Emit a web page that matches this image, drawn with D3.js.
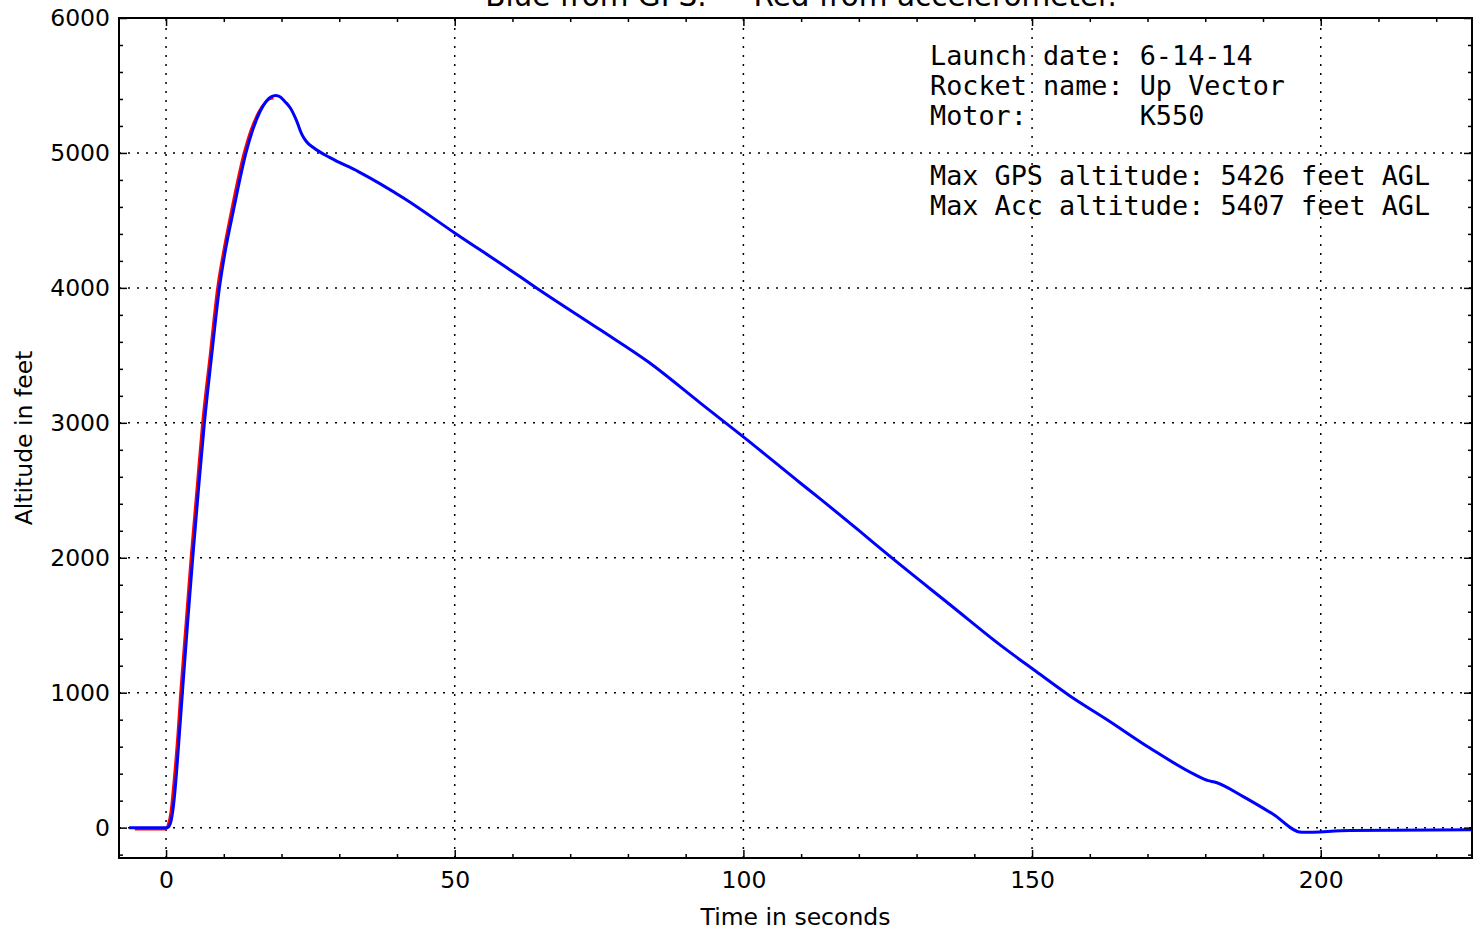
<!DOCTYPE html>
<html>
<head>
<meta charset="utf-8">
<script src="https://cdn.jsdelivr.net/npm/d3@7"></script>
<style>
  html, body { margin: 0; padding: 0; background: #fff; }
  svg { display: block; }
</style>
</head>
<body>
<script>
// ---------------- data ----------------
const titleText = "Blue from GPS.     Red from accelerometer.";
const xLabel = "Time in seconds";
const yLabel = "Altitude in feet";
const annotationLines = [
  "Launch date: 6-14-14",
  "Rocket name: Up Vector",
  "Motor:       K550",
  "",
  "Max GPS altitude: 5426 feet AGL",
  "Max Acc altitude: 5407 feet AGL"
];

const xMajorTicks = [0, 50, 100, 150, 200];
const xMinorTicks = [10, 20, 30, 40, 60, 70, 80, 90, 110, 120, 130, 140, 160, 170, 180, 190, 210, 220];
const yMajorTicks = [0, 1000, 2000, 3000, 4000, 5000, 6000];
const yMinorTicks = [-200, 200, 400, 600, 800, 1200, 1400, 1600, 1800, 2200, 2400, 2600, 2800,
  3200, 3400, 3600, 3800, 4200, 4400, 4600, 4800, 5200, 5400, 5600, 5800];

// GPS altitude (blue)
const gpsTime = [-6.4, 0.0, 0.3, 0.8, 1.3, 1.8, 2.3, 2.83, 3.7, 4.62, 5.6, 6.64, 7.9, 9.24, 10.2, 11.65,
  13.85, 15.0, 16.3, 17.4, 18.2, 19.0, 19.8, 20.6, 21.5, 22.6, 23.5, 24.3, 25.5, 28.4, 33.3, 41.4, 50.0, 59.6,
  63.9, 75.2, 83.5, 92.5, 100.0, 109.8, 113.2, 120.2, 125.4, 135.8, 144.4, 150.3, 156.5, 163.0,
  170.4, 178.2, 180.5, 181.6, 186.5, 191.7, 196.7, 205.0, 226.2];
const gpsAlt = [0, 0, 2, 40, 170, 400, 690, 1000, 1500, 2000, 2500, 3000, 3500, 4000, 4260, 4570,
  5002, 5170, 5309, 5385, 5416, 5426, 5414, 5380, 5335, 5240, 5140, 5085, 5040, 4965, 4862, 4659, 4407, 4133,
  4007, 3689, 3452, 3148, 2896, 2556, 2440, 2195, 2010, 1652, 1356, 1170, 978, 800,
  590, 393, 348, 338, 232, 101, -35, -22, -15];

// Accelerometer altitude (red)
const accTime = [-5.4, 0.0, 0.3, 0.8, 1.3, 2.0, 2.5, 3.4, 4.3, 5.3, 6.3, 7.6, 8.9, 9.9, 11.3,
  13.5, 14.7, 16.0, 17.2, 18.0, 18.6];
const accAlt = [-12, -12, 15, 110, 320, 680, 1000, 1500, 2000, 2500, 3000, 3500, 4000, 4260, 4570,
  5000, 5170, 5300, 5375, 5400, 5407];

// ---------------- layout ----------------
const W = 1473, H = 930;
const L = 119, R = 1472, T = 18, B = 858;

const svg = d3.select("body").append("svg")
  .attr("width", W).attr("height", H)
  .attr("viewBox", `0 0 ${W} ${H}`);

const x = d3.scaleLinear().domain([-8.15, 226.2]).range([L, R]);
const y = d3.scaleLinear().domain([-225, 6000]).range([B, T]);

const sans = "'DejaVu Sans', sans-serif";
const mono = "'DejaVu Sans Mono', monospace";

// title (clipped at top of canvas)
svg.append("text")
  .attr("x", 801).attr("y", 6)
  .attr("text-anchor", "middle")
  .attr("font-family", sans).attr("font-size", 29.5)
  .attr("xml:space", "preserve")
  .style("white-space", "pre")
  .text(titleText);

// grid lines
const grid = svg.append("g").attr("stroke", "#000").attr("stroke-width", 1.5)
  .attr("stroke-dasharray", "2,7");
grid.selectAll("line.gx").data(xMajorTicks).join("line")
  .attr("x1", d => x(d)).attr("x2", d => x(d)).attr("y1", B).attr("y2", T);
grid.selectAll("line.gy").data(yMajorTicks).join("line")
  .attr("y1", d => y(d)).attr("y2", d => y(d)).attr("x1", L).attr("x2", R);

// clip
svg.append("clipPath").attr("id", "plotclip").append("rect")
  .attr("x", L).attr("y", T).attr("width", R - L).attr("height", B - T);

const line = (xs, ys) => d3.line()
  .x((d, i) => x(xs[i])).y((d, i) => y(ys[i]))
  .curve(d3.curveMonotoneX)(xs);

const plot = svg.append("g").attr("clip-path", "url(#plotclip)");
plot.append("path").attr("d", line(accTime, accAlt))
  .attr("fill", "none").attr("stroke", "#ff0000").attr("stroke-width", 2.5)
  .attr("stroke-linejoin", "round");
plot.append("path").attr("d", line(gpsTime, gpsAlt))
  .attr("fill", "none").attr("stroke", "#0000ff").attr("stroke-width", 3)
  .attr("stroke-linejoin", "round");

// axes (ticks pointing inward)
function styleAxis(g) {
  g.select(".domain").remove();
  g.selectAll("line").attr("stroke", "#000").attr("stroke-width", 1.5);
  g.selectAll("text").attr("font-family", sans).attr("font-size", 23.5).attr("fill", "#000");
}
svg.append("g").attr("transform", `translate(0,${B})`)
  .call(d3.axisBottom(x).tickValues(xMajorTicks).tickFormat(d3.format("d")).tickSize(-8).tickPadding(13))
  .call(styleAxis);
svg.append("g").attr("transform", `translate(0,${B})`)
  .call(d3.axisBottom(x).tickValues(xMinorTicks).tickFormat("").tickSize(-4))
  .call(styleAxis);
svg.append("g").attr("transform", `translate(0,${T})`)
  .call(d3.axisTop(x).tickValues(xMajorTicks).tickFormat("").tickSize(-8))
  .call(styleAxis);
svg.append("g").attr("transform", `translate(0,${T})`)
  .call(d3.axisTop(x).tickValues(xMinorTicks).tickFormat("").tickSize(-4))
  .call(styleAxis);
svg.append("g").attr("transform", `translate(${L},0)`)
  .call(d3.axisLeft(y).tickValues(yMajorTicks).tickFormat(d3.format("d")).tickSize(-8).tickPadding(9))
  .call(styleAxis);
svg.append("g").attr("transform", `translate(${L},0)`)
  .call(d3.axisLeft(y).tickValues(yMinorTicks).tickFormat("").tickSize(-4))
  .call(styleAxis);
svg.append("g").attr("transform", `translate(${R},0)`)
  .call(d3.axisRight(y).tickValues(yMajorTicks).tickFormat("").tickSize(-8))
  .call(styleAxis);
svg.append("g").attr("transform", `translate(${R},0)`)
  .call(d3.axisRight(y).tickValues(yMinorTicks).tickFormat("").tickSize(-4))
  .call(styleAxis);

// frame
svg.append("rect").attr("x", L).attr("y", T).attr("width", R - L).attr("height", B - T)
  .attr("fill", "none").attr("stroke", "#000").attr("stroke-width", 2);

// axis labels
svg.append("text").attr("x", (L + R) / 2).attr("y", 925)
  .attr("text-anchor", "middle").attr("font-family", sans).attr("font-size", 23.5)
  .text(xLabel);
svg.append("text").attr("transform", `translate(32,${(T + B) / 2}) rotate(-90)`)
  .attr("text-anchor", "middle").attr("font-family", sans).attr("font-size", 23.5)
  .text(yLabel);

// annotation
svg.append("g").selectAll("text").data(annotationLines).join("text")
  .attr("x", 930).attr("y", (d, i) => 65 + i * 30)
  .attr("font-family", mono).attr("font-size", 26.8)
  .attr("xml:space", "preserve").style("white-space", "pre")
  .text(d => d);
</script>
</body>
</html>
